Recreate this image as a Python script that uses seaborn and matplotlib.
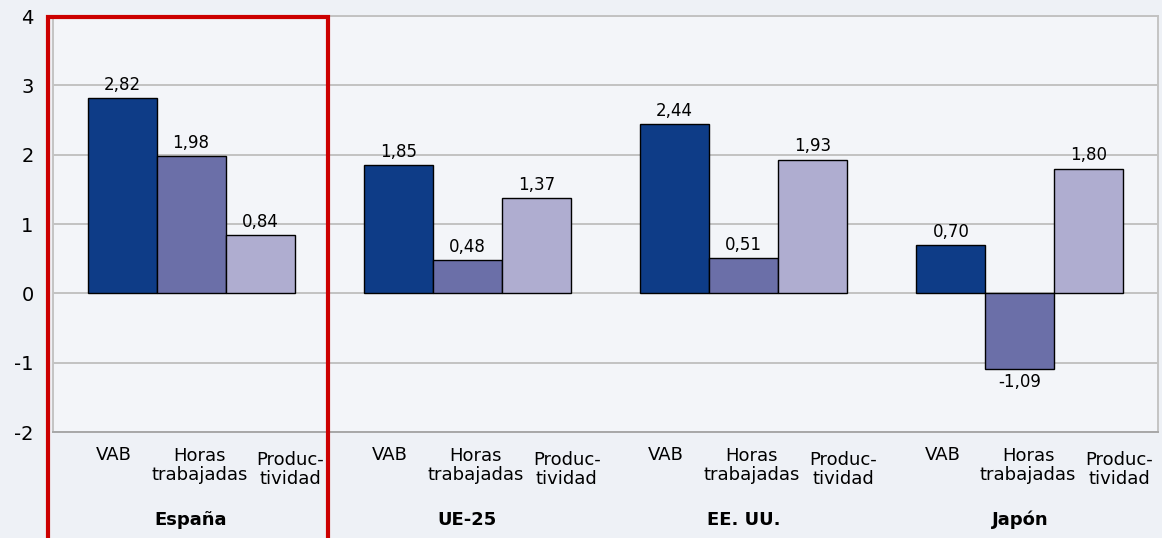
import pandas as pd
import matplotlib
matplotlib.use("Agg")
import matplotlib.pyplot as plt
import matplotlib.transforms as mtransforms
from matplotlib.patches import Rectangle
import seaborn as sns

# Datos de la figura
paises = ["España", "UE-25", "EE. UU.", "Japón"]
variables = ["VAB", "Horas trabajadas", "Productividad"]
etiquetas_var = ["VAB", "Horas\ntrabajadas", "Produc-\ntividad"]
vab = [2.82, 1.85, 2.44, 0.70]
horas = [1.98, 0.48, 0.51, -1.09]
productividad = [0.84, 1.37, 1.93, 1.80]
colores = ["#0E3C87", "#6B6FA8", "#AFADD0"]

df = pd.DataFrame({
    "pais": paises * 3,
    "variable": [v for v in variables for _ in paises],
    "valor": vab + horas + productividad,
})

sns.set_style("white")
plt.rcParams["font.family"] = ["DejaVu Sans"]
plt.rcParams["text.color"] = "black"
plt.rcParams["ytick.color"] = "black"
plt.rcParams["ytick.labelcolor"] = "black"

fig = plt.figure(figsize=(11.62, 5.38), dpi=100, facecolor="#EEF1F6")
ax = fig.add_axes([53 / 1162, 1 - 432 / 538, 1105 / 1162, 416 / 538])
ax.set_facecolor("#F3F5F9")

sns.barplot(data=df, x="pais", y="valor", hue="variable", order=paises,
            hue_order=variables, palette=colores, width=0.75, gap=0,
            edgecolor="black", linewidth=1, saturation=1, legend=False, ax=ax)

ax.set_xlim(-0.5, 3.5)
ax.set_ylim(-2, 4)
ax.set_yticks(range(-2, 5))
ax.set_yticklabels([str(t) for t in range(-2, 5)], fontsize=14, color="black")
ax.tick_params(axis="y", length=0, pad=14)
ax.tick_params(axis="x", length=0, labelbottom=False)
ax.set_xlabel("")
ax.set_ylabel("")
ax.grid(axis="y", color="#C2C2C2", linewidth=1.4)
ax.set_axisbelow(True)
for lado, col in [("left", "#C4C4C4"), ("right", "#C4C4C4"), ("bottom", "#A8A8A8"), ("top", "#C2C2C2")]:
    ax.spines[lado].set_color(col)
    ax.spines[lado].set_linewidth(1.4)

# Etiquetas de valores
for cont in ax.containers:
    vals = [p.get_height() for p in cont]
    ax.bar_label(cont, labels=[f"{v:.2f}".replace(".", ",") for v in vals],
                 padding=3, fontsize=12, color="black")

# Etiquetas de categorías bajo el eje
trans = mtransforms.blended_transform_factory(ax.transData, fig.transFigure)
desplaz = [-0.03, 0.03, 0.11]
alto = [446, 447, 451]
for i, cont in enumerate(ax.containers):
    for p in cont:
        xc = p.get_x() + p.get_width() / 2 + desplaz[i]
        ax.text(xc, 1 - alto[i] / 538, etiquetas_var[i], transform=trans,
                ha="center", va="top", fontsize=13, linespacing=1.1,
                color="black")

for j, pais in enumerate(paises):
    ax.text(j + 0.0, 1 - 520 / 538, pais, transform=trans, ha="center",
            va="center", fontsize=13, fontweight="bold", color="black")

# Recuadro rojo alrededor de España
fig.add_artist(Rectangle((47.5 / 1162, -0.05), 280 / 1162, 1.05 - 16.5 / 538,
                         transform=fig.transFigure, fill=False,
                         edgecolor="#CC0000", linewidth=3, clip_on=False))

fig.savefig("out.png", dpi=100, facecolor=fig.get_facecolor())
